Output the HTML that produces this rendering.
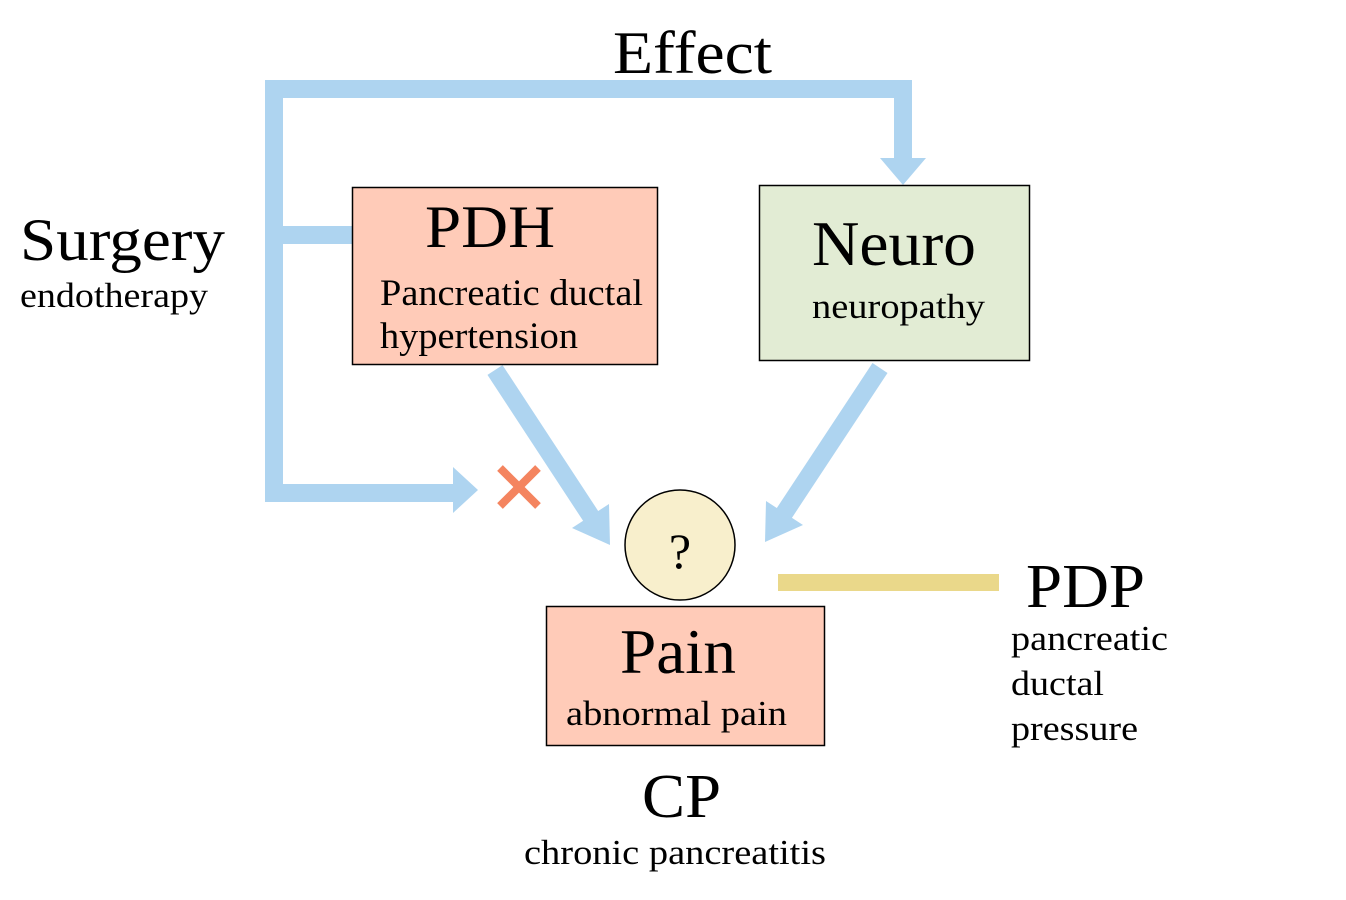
<!DOCTYPE html>
<html><head><meta charset="utf-8"><style>
html,body{margin:0;padding:0;background:#fff;width:1346px;height:900px;overflow:hidden}
text{font-family:"Liberation Serif",serif;fill:#000}
</style></head><body>
<svg width="1346" height="900" viewBox="0 0 1346 900">
<g fill="#aed4f0">
<rect x="265" y="80" width="647" height="18"/>
<rect x="265" y="80" width="18" height="422"/>
<rect x="283" y="226" width="70" height="18"/>
<rect x="265" y="484" width="190" height="18"/>
<polygon points="453,467 453,513 478,490"/>
<rect x="894" y="80" width="18" height="80"/>
<polygon points="880,158 926,158 903,185"/>
</g>
<g>
<line x1="495" y1="370" x2="592" y2="518" stroke="#aed4f0" stroke-width="18"/>
<polygon points="572,528 609,504 610,545" fill="#aed4f0"/>
</g>
<g>
<line x1="880" y1="368" x2="783" y2="515" stroke="#aed4f0" stroke-width="18"/>
<polygon points="803,525 766,501 765,542" fill="#aed4f0"/>
</g>
<g stroke="#f4845f" stroke-width="8">
<line x1="500" y1="468" x2="538" y2="506"/><line x1="538" y1="468" x2="500" y2="506"/>
</g>
<rect x="778" y="574" width="221" height="17" fill="#ead88a"/>
<g>
<rect x="352.5" y="187.5" width="305" height="177" fill="#ffcbb8" stroke="#000" stroke-width="1.5"/>
<text x="425" y="247" font-size="60" textLength="130" lengthAdjust="spacingAndGlyphs">PDH</text>
<text x="380" y="305" font-size="37" textLength="263" lengthAdjust="spacingAndGlyphs">Pancreatic ductal</text>
<text x="380" y="348" font-size="37" textLength="198" lengthAdjust="spacingAndGlyphs">hypertension</text>
</g>
<g>
<rect x="759.5" y="185.5" width="270" height="175" fill="#e2ecd4" stroke="#000" stroke-width="1.5"/>
<text x="812" y="265" font-size="64" textLength="164" lengthAdjust="spacingAndGlyphs">Neuro</text>
<text x="812" y="318" font-size="35" textLength="173" lengthAdjust="spacingAndGlyphs">neuropathy</text>
</g>
<g>
<circle cx="680" cy="545" r="55" fill="#f8efcc" stroke="#000" stroke-width="1.5"/>
<text x="680" y="568" font-size="50" text-anchor="middle">?</text>
</g>
<g>
<rect x="546.5" y="606.5" width="278" height="139" fill="#ffcbb8" stroke="#000" stroke-width="1.5"/>
<text x="620" y="673" font-size="64" textLength="116" lengthAdjust="spacingAndGlyphs">Pain</text>
<text x="566" y="725" font-size="35" textLength="221" lengthAdjust="spacingAndGlyphs">abnormal pain</text>
</g>
<text x="613" y="73" font-size="60" textLength="159" lengthAdjust="spacingAndGlyphs">Effect</text>
<text x="20" y="260" font-size="60" textLength="205" lengthAdjust="spacingAndGlyphs">Surgery</text>
<text x="20" y="307" font-size="35" textLength="188" lengthAdjust="spacingAndGlyphs">endotherapy</text>
<text x="642" y="817" font-size="62" textLength="79" lengthAdjust="spacingAndGlyphs">CP</text>
<text x="524" y="864" font-size="35" textLength="302" lengthAdjust="spacingAndGlyphs">chronic pancreatitis</text>
<text x="1026" y="607" font-size="62" textLength="119" lengthAdjust="spacingAndGlyphs">PDP</text>
<text x="1011" y="650" font-size="35" textLength="157" lengthAdjust="spacingAndGlyphs">pancreatic</text>
<text x="1011" y="695" font-size="35" textLength="93" lengthAdjust="spacingAndGlyphs">ductal</text>
<text x="1011" y="740" font-size="35" textLength="127" lengthAdjust="spacingAndGlyphs">pressure</text>
</svg>
</body></html>
